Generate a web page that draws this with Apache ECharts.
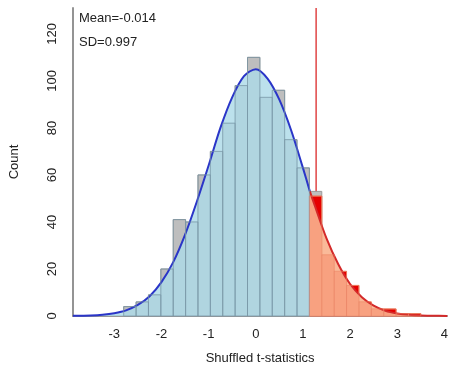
<!DOCTYPE html>
<html>
<head>
<meta charset="utf-8">
<script src="https://cdn.jsdelivr.net/npm/echarts@6/dist/echarts.min.js"></script>
<style>
  html, body { margin: 0; padding: 0; background: #fff; }
  #chart { width: 451px; height: 370px; }
</style>
</head>
<body>
<div id="chart"></div>
<script>
// Histogram bins
const BIN_START = -2.80;
const BIN_WIDTH = 0.2625;
// observed counts, all shuffled statistics (gray)
const totalCounts = [4, 6, 9, 20, 41, 40, 60, 70, 82, 98, 110, 93, 96, 75, 63, 53];
// counts above the threshold (red), starting at bin 15
const RED_FIRST_BIN = 15;
const redCounts = [51, 26, 19, 13, 6, 3, 3, 1, 1];

const THRESHOLD = 1.28;
const statsText = ['Mean=-0.014', 'SD=0.997'];

// fitted normal curve
const curveLeftX = [-3.875, -3.5, -3.25, -3.0, -2.75, -2.5, -2.25, -2.0, -1.75, -1.5, -1.25, -1.0, -0.75, -0.5, -0.25, 0, 0.25, 0.5, 0.75, 1.0, 1.1475];
const curveLeftY = [0.1, 0.25, 0.55, 1.2, 2.4, 4.7, 8.4, 14.4, 22.9, 34.5, 48.6, 64, 80, 93, 102, 105, 101, 92, 79, 63, 53];
const curveRightX = [1.1475, 1.25, 1.5, 1.75, 2.0, 2.25, 2.5, 2.75, 3.0, 3.25, 3.5, 3.75, 4.06];
const curveRightY = [53, 47, 33, 22, 13.6, 8, 4.4, 2.2, 1.1, 0.5, 0.2, 0.1, 0.03];

const xTicks = [-3, -2, -1, 0, 1, 2, 3, 4];
const yTicks = [0, 20, 40, 60, 80, 100, 120];

const FONT = 'Liberation Sans, Arial, sans-serif';

const grayData = totalCounts.map((c, i) => [BIN_START + i * BIN_WIDTH, BIN_START + (i + 1) * BIN_WIDTH, c]);
const redData = redCounts.map((c, i) => {
  const k = RED_FIRST_BIN + i;
  return [BIN_START + k * BIN_WIDTH, BIN_START + (k + 1) * BIN_WIDTH, c];
});

const barRenderer = (fill, stroke) => (params, api) => {
  const p0 = api.coord([api.value(0), api.value(2)]);
  const p1 = api.coord([api.value(1), 0]);
  return {
    type: 'rect',
    shape: { x: p0[0], y: p0[1], width: p1[0] - p0[0], height: p1[1] - p0[1] },
    style: { fill: fill, stroke: stroke, lineWidth: 1 },
  };
};

const chart = echarts.init(document.getElementById('chart'), null, { renderer: 'canvas' });

chart.setOption({
  animation: false,
  grid: { left: 70, right: 0, top: 8, bottom: 52 },
  xAxis: {
    type: 'value',
    min: -3.875,
    max: 4.06,
    name: 'Shuffled t-statistics',
    nameLocation: 'middle',
    nameGap: 36,
    nameTextStyle: { fontFamily: FONT, fontSize: 13, color: '#222' },
    axisLine: { show: true, onZero: false, lineStyle: { color: '#777', width: 1.5 } },
    axisTick: { show: false },
    splitLine: { show: false },
    axisLabel: {
      customValues: xTicks,
      fontFamily: FONT, fontSize: 13, color: '#222', margin: 12,
      showMinLabel: true, showMaxLabel: true,
    },
  },
  yAxis: {
    type: 'value',
    min: 0,
    max: 131,
    name: 'Count',
    nameLocation: 'middle',
    nameGap: 52,
    nameTextStyle: { fontFamily: FONT, fontSize: 13, color: '#222' },
    axisLine: { show: true, onZero: false, lineStyle: { color: '#949494', width: 2 } },
    axisTick: { show: false },
    splitLine: { show: false },
    axisLabel: {
      customValues: yTicks,
      rotate: 90,
      fontFamily: FONT, fontSize: 13, color: '#222', margin: 14,
    },
  },
  series: [
    {
      name: 'threshold',
      type: 'line',
      z: 1,
      symbol: 'none',
      data: [[THRESHOLD, 0], [THRESHOLD, 131]],
      lineStyle: { color: '#e04545', width: 1.5 },
    },
    {
      name: 'all',
      type: 'custom',
      z: 2,
      renderItem: barRenderer('#bebebe', '#9a9a9a'),
      data: grayData,
    },
    {
      name: 'above',
      type: 'custom',
      z: 3,
      renderItem: barRenderer('#e60000', '#e87050'),
      data: redData,
    },
    {
      name: 'fitLeft',
      type: 'line',
      z: 4,
      symbol: 'none',
      smooth: 0.3,
      data: curveLeftX.map((x, i) => [x, curveLeftY[i]]),
      lineStyle: { color: '#2a35c8', width: 2 },
      areaStyle: { color: 'rgb(173,218,232)', opacity: 0.82, origin: 'start' },
    },
    {
      name: 'fitRight',
      type: 'line',
      z: 4,
      symbol: 'none',
      smooth: 0.3,
      data: curveRightX.map((x, i) => [x, curveRightY[i]]),
      lineStyle: { color: '#d42a2a', width: 2 },
      areaStyle: { color: 'rgb(250,178,142)', opacity: 0.9, origin: 'start' },
    },
    // bin outlines seen through the fill
    {
      name: 'allOutline',
      type: 'custom',
      z: 5,
      renderItem: barRenderer('none', 'rgba(120,150,165,0.7)'),
      data: grayData.slice(0, RED_FIRST_BIN),
    },
    {
      name: 'aboveOutline',
      type: 'custom',
      z: 5,
      renderItem: barRenderer('none', 'rgba(235,130,100,0.55)'),
      data: redData,
    },
  ],
  graphic: [
    {
      type: 'text', left: 79, top: 12,
      style: { text: statsText[0], font: '13px ' + FONT, fill: '#222' },
    },
    {
      type: 'text', left: 79, top: 36,
      style: { text: statsText[1], font: '13px ' + FONT, fill: '#222' },
    },
  ],
});
</script>
</body>
</html>
